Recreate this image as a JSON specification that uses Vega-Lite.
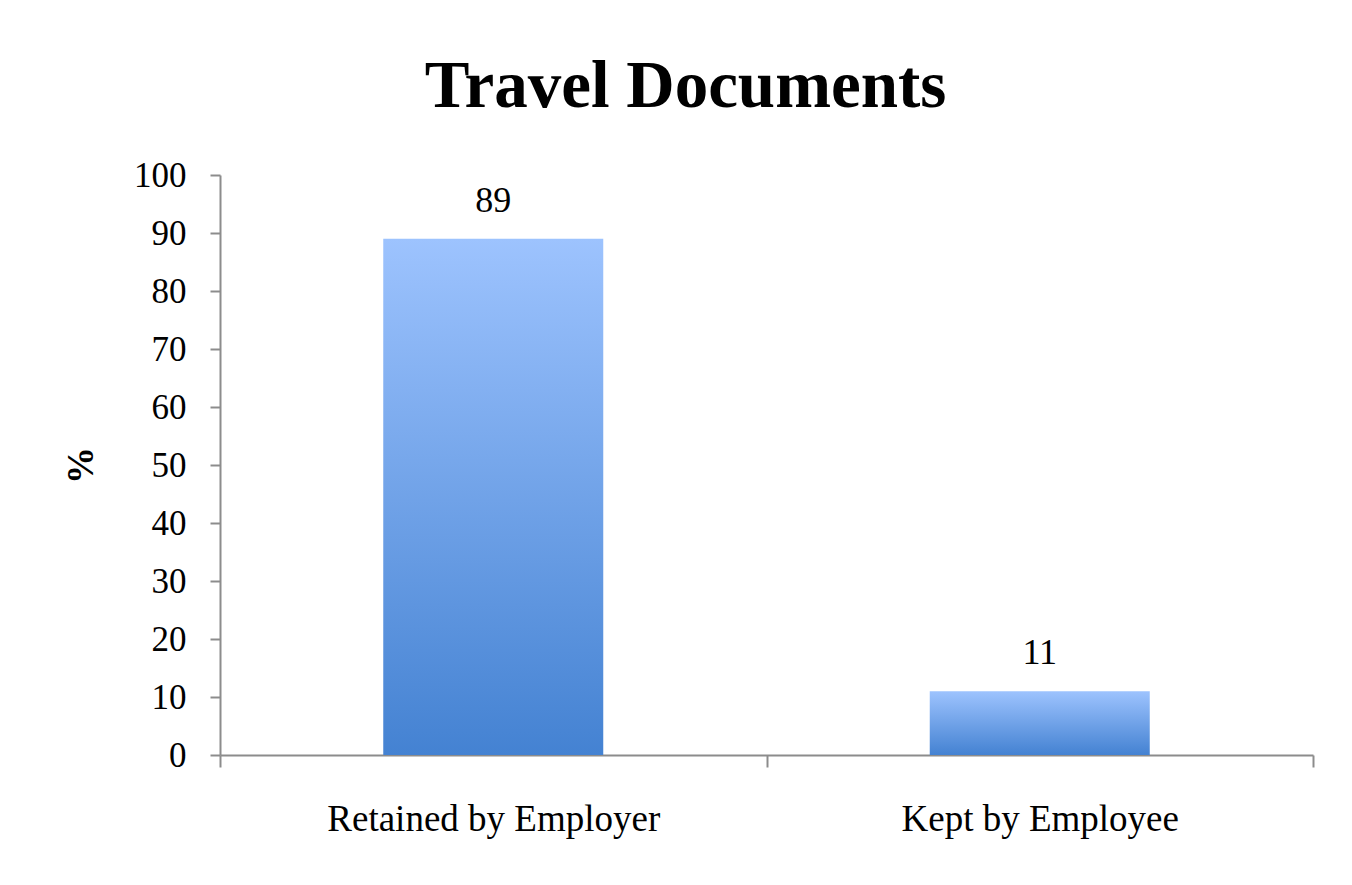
{
  "$schema": "https://vega.github.io/schema/vega-lite/v6.json",
  "width": 1093,
  "height": 580,
  "autosize": {"type": "none"},
  "padding": {"left": 220, "top": 175, "right": 39, "bottom": 130},
  "background": "white",
  "title": {
    "text": "Travel Documents",
    "font": "Liberation Serif",
    "fontSize": 67,
    "fontWeight": "bold",
    "color": "black",
    "anchor": "middle",
    "frame": "group",
    "dx": -81,
    "offset": 37
  },
  "data": {
    "values": [
      {"category": "Retained by Employer", "percent": 89},
      {"category": "Kept by Employee", "percent": 11}
    ]
  },
  "encoding": {
    "x": {
      "field": "category",
      "type": "nominal",
      "sort": null,
      "scale": {"paddingInner": 0, "paddingOuter": 0},
      "axis": {
        "title": null,
        "labelAngle": 0,
        "labelLimit": 0,
        "tickBand": "extent",
        "tickSize": 12,
        "tickWidth": 2,
        "tickColor": "#8c8c8c",
        "domainColor": "#8c8c8c",
        "domainWidth": 2,
        "labelFont": "Liberation Serif",
        "labelFontSize": 37,
        "labelColor": "black",
        "labelPadding": 34
      }
    },
    "y": {
      "field": "percent",
      "type": "quantitative",
      "scale": {"domain": [0, 100]},
      "axis": {
        "title": "%",
        "values": [0, 10, 20, 30, 40, 50, 60, 70, 80, 90, 100],
        "grid": false,
        "tickSize": 10,
        "tickWidth": 2,
        "tickColor": "#8c8c8c",
        "domainColor": "#8c8c8c",
        "domainWidth": 2,
        "labelFont": "Liberation Serif",
        "labelFontSize": 35,
        "labelColor": "black",
        "labelPadding": 24,
        "titleFont": "Liberation Serif",
        "titleFontSize": 37,
        "titleFontWeight": "bold",
        "titleColor": "black",
        "titlePadding": 33
      }
    }
  },
  "layer": [
    {
      "mark": {
        "type": "bar",
        "width": 220,
        "color": {
          "gradient": "linear",
          "x1": 0, "y1": 0, "x2": 0, "y2": 1,
          "stops": [
            {"offset": 0, "color": "#9dc3fe"},
            {"offset": 1, "color": "#4482d2"}
          ]
        }
      }
    },
    {
      "mark": {
        "type": "text",
        "dy": -38,
        "font": "Liberation Serif",
        "fontSize": 36,
        "color": "black"
      },
      "encoding": {"text": {"field": "percent", "type": "quantitative"}}
    }
  ],
  "config": {"view": {"stroke": null}}
}
